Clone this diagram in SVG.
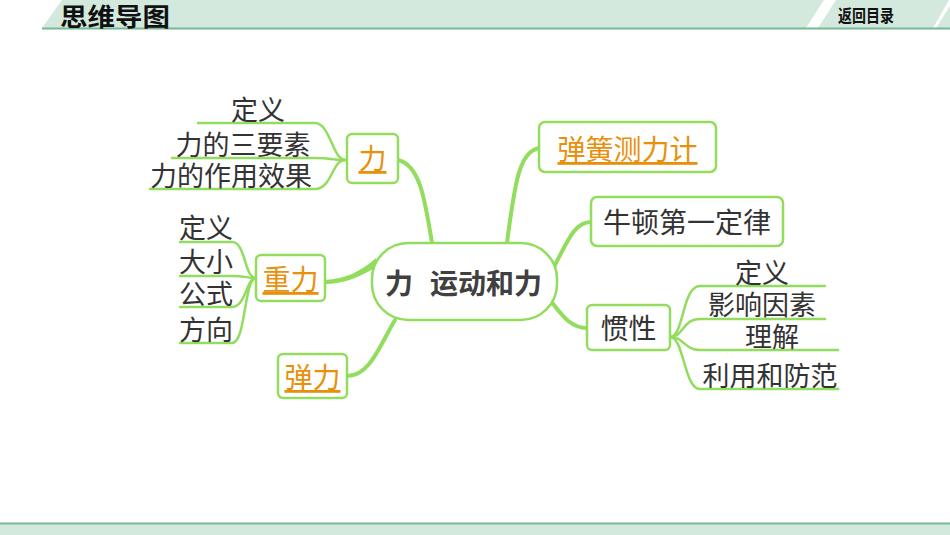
<svg xmlns="http://www.w3.org/2000/svg" width="950" height="535" viewBox="0 0 950 535">
<style>
.t{font-family:"Noto Sans CJK SC","Noto Sans",sans-serif;fill:#333;font-size:27px}
.n{font-family:"Noto Sans CJK SC","Noto Sans",sans-serif;fill:#333;font-size:28px}
.o{font-family:"Noto Sans CJK SC","Noto Sans",sans-serif;fill:#E8900C;font-size:28px;text-decoration:underline}
.c{font-family:"Noto Sans CJK SC","Noto Sans",sans-serif;fill:#404040;font-size:28px;font-weight:bold}
.box{fill:#fff;stroke:#92DC5E;stroke-width:2.5}
.ln{fill:none;stroke:#92DC5E;stroke-width:2.5;stroke-linecap:round}
.thick{fill:none;stroke:#92DC5E;stroke-width:4;stroke-linecap:round}
</style>
<!-- header -->
<polygon points="42,28 62,0 950,0 950,28" fill="#D4E9DE"/>
<polygon points="806,28 824,0 836,0 818,28" fill="#fff"/>
<polygon points="933,28 949,0 950,0 950,6 936,28" fill="#fff"/>
<line x1="42" y1="28.5" x2="950" y2="28.5" stroke="#76B894" stroke-width="2"/>
<text x="60" y="26" font-family="'Noto Sans CJK SC',sans-serif" font-weight="bold" font-size="25" fill="#111" textLength="110" lengthAdjust="spacingAndGlyphs">思维导图</text>
<text x="838" y="22" font-family="'Noto Sans CJK SC',sans-serif" font-weight="bold" font-size="17" fill="#111" textLength="56" lengthAdjust="spacingAndGlyphs">返回目录</text>
<!-- footer -->
<rect x="0" y="524" width="950" height="11" fill="#D4E9DE"/>
<line x1="0" y1="523.5" x2="950" y2="523.5" stroke="#76B894" stroke-width="2"/>

<g id="connectors">
<path class="thick" d="M398,160 C420,165 425,200 432,243"/>
<path class="thick" d="M540,148 C520,150 515,180 507,243"/>
<path class="thick" d="M591,222 C575,222 568,240 555,265"/>
<path class="thick" d="M587,328 C570,328 562,315 550,300"/>
<path class="thick" d="M347,376 C370,376 380,345 395,320"/>
<path d="M325,280 C345,279 360,272 376,258 L378,266 C362,276 345,284 325,284 Z" fill="#92DC5E"/>
<path class="ln" d="M198,123 H315 C330,123 333,160 345,160"/>
<path class="ln" d="M172,158 H315 C330,158 335,160 345,160"/>
<path class="ln" d="M150,189 H315 C332,189 332,160 345,160"/>
<path class="ln" d="M180,242 H232 C246,242 244,278 256,278"/>
<path class="ln" d="M180,276 H232 C246,276 246,278 256,278"/>
<path class="ln" d="M180,307 H232 C246,307 246,278 256,278"/>
<path class="ln" d="M180,343 H232 C246,343 244,278 256,278"/>
<path class="ln" d="M670,337 C684,337 682,286 700,286 H825"/>
<path class="ln" d="M670,337 C684,337 682,319 700,319 H825"/>
<path class="ln" d="M670,337 C684,337 684,350 700,350 H838"/>
<path class="ln" d="M670,337 C684,337 684,389 700,389 H838"/>
</g>

<g id="center">
<rect class="box" x="372" y="243" width="185" height="77" rx="36"/>
<text class="c" x="385" y="294">力</text>
<text class="c" x="430" y="294">运动和力</text>
</g>
<g id="li">
<rect class="box" x="347" y="134" width="51" height="49" rx="5"/>
<text class="o" x="372.5" y="169" text-anchor="middle">力</text>
</g>
<g id="li-b1"><text class="t" x="258" y="120" text-anchor="middle">定义</text></g>
<g id="li-b2"><text class="t" x="243" y="155" text-anchor="middle">力的三要素</text></g>
<g id="li-b3"><text class="t" x="231" y="186" text-anchor="middle">力的作用效果</text></g>

<g id="zhongli">
<rect class="box" x="256" y="255" width="69" height="46" rx="5"/>
<text class="o" x="290.5" y="290" text-anchor="middle">重力</text>
</g>
<g id="zl-b1"><text class="t" x="206" y="238" text-anchor="middle">定义</text></g>
<g id="zl-b2"><text class="t" x="206" y="272" text-anchor="middle">大小</text></g>
<g id="zl-b3"><text class="t" x="206" y="304" text-anchor="middle">公式</text></g>
<g id="zl-b4"><text class="t" x="206" y="340" text-anchor="middle">方向</text></g>

<g id="tanli">
<rect class="box" x="278" y="354" width="69" height="44" rx="5"/>
<text class="o" x="312.5" y="388" text-anchor="middle">弹力</text>
</g>

<g id="tanhuang">
<rect class="box" x="539" y="122" width="177" height="50" rx="6"/>
<text class="o" x="627.5" y="160" text-anchor="middle">弹簧测力计</text>
</g>

<g id="niudun">
<rect class="box" x="591" y="197" width="192" height="49" rx="6"/>
<text class="n" x="687" y="233" text-anchor="middle">牛顿第一定律</text>
</g>

<g id="guanxing">
<rect class="box" x="587" y="305" width="83" height="45" rx="5"/>
<text class="n" x="628.5" y="339" text-anchor="middle">惯性</text>
</g>
<g id="gx-b1"><text class="t" x="762" y="283" text-anchor="middle">定义</text></g>
<g id="gx-b2"><text class="t" x="762" y="315" text-anchor="middle">影响因素</text></g>
<g id="gx-b3"><text class="t" x="772" y="347" text-anchor="middle">理解</text></g>
<g id="gx-b4"><text class="t" x="770" y="386" text-anchor="middle">利用和防范</text></g>
</svg>
